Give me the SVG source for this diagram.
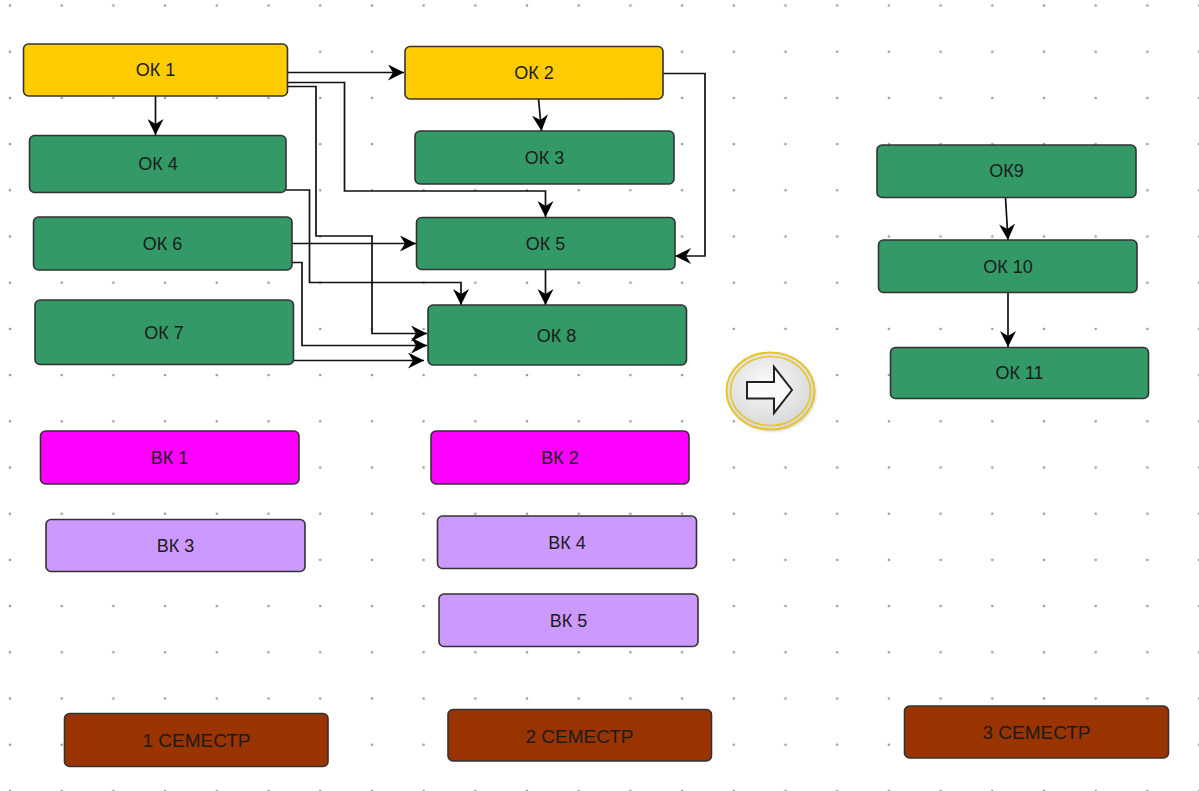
<svg xmlns="http://www.w3.org/2000/svg" width="1199" height="791" viewBox="0 0 1199 791">
<style>
.n{stroke:#333;stroke-width:1.6}
.ok{fill:#339966}
.y{fill:#FFCC00}
.m{fill:#FF00FF}
.p{fill:#CC99FF}
.s{fill:#993300}
.t{font-family:"Liberation Sans",Arial,sans-serif;font-size:18px;fill:#1c1c1c;text-anchor:middle;dominant-baseline:central}
.ts{font-size:19px}
.c{fill:none;stroke:#111;stroke-width:1.7}
</style>
<defs>
<pattern id="grid" x="10" y="5.5" width="51.7" height="46.2" patternUnits="userSpaceOnUse">
<circle cx="0" cy="0" r="1.3" fill="#999"/><circle cx="51.7" cy="0" r="1.3" fill="#999"/><circle cx="0" cy="46.2" r="1.3" fill="#999"/><circle cx="51.7" cy="46.2" r="1.3" fill="#999"/>
</pattern>
<marker id="ah" markerUnits="userSpaceOnUse" markerWidth="16" markerHeight="16" refX="16" refY="8" orient="auto" viewBox="0 0 16 16">
<path d="M0,0 L16,8 L0,16 L5,8 Z" fill="#000"/>
</marker>
<radialGradient id="btn" cx="45%" cy="40%" r="65%">
<stop offset="0" stop-color="#fafafa"/><stop offset="1" stop-color="#d4d4d4"/>
</radialGradient>
<filter id="sh" x="-20%" y="-20%" width="140%" height="140%"><feGaussianBlur stdDeviation="1.5"/></filter>
</defs>
<rect width="1199" height="791" fill="#fff"/>
<rect width="1199" height="791" fill="url(#grid)"/>

<g id="connectors">
<path class="c" d="M287,72.5 H404" marker-end="url(#ah)"/>
<path class="c" d="M287,82.5 H344.5 V191 H545.5 V217" marker-end="url(#ah)"/>
<path class="c" d="M287,86.5 H316 V236 H372 V333.5 H427" marker-end="url(#ah)"/>
<path class="c" d="M155.5,96 V135" marker-end="url(#ah)"/>
<path class="c" d="M286,190 H309.5 V282.5 H461 V305" marker-end="url(#ah)"/>
<path class="c" d="M292,243.5 H416" marker-end="url(#ah)"/>
<path class="c" d="M292,262.5 H302 V345.5 H427" marker-end="url(#ah)"/>
<path class="c" d="M293,360.5 H424" marker-end="url(#ah)"/>
<path class="c" d="M538.5,99 L541.5,131" marker-end="url(#ah)"/>
<path class="c" d="M663,73.5 H705 V256 H675" marker-end="url(#ah)"/>
<path class="c" d="M545.5,269 V305" marker-end="url(#ah)"/>
<path class="c" d="M1005.5,197.5 L1008,240" marker-end="url(#ah)"/>
<path class="c" d="M1008,292.5 V347" marker-end="url(#ah)"/>
</g>

<g id="ok1"><rect class="n y" x="23.5" y="44" width="264" height="52" rx="5"/><text class="t" x="155.5" y="70">ОК 1</text></g>
<g id="ok2"><rect class="n y" x="405" y="46.5" width="258" height="52.5" rx="5"/><text class="t" x="534" y="73">ОК 2</text></g>
<g id="ok4"><rect class="n ok" x="29.5" y="135.5" width="256.5" height="57" rx="5"/><text class="t" x="158" y="164">ОК 4</text></g>
<g id="ok3"><rect class="n ok" x="415" y="131" width="259" height="53" rx="5"/><text class="t" x="544.5" y="157.5">ОК 3</text></g>
<g id="ok6"><rect class="n ok" x="33.5" y="217" width="258.5" height="53" rx="5"/><text class="t" x="162.5" y="244">ОК 6</text></g>
<g id="ok5"><rect class="n ok" x="416.5" y="217.5" width="258.5" height="52" rx="5"/><text class="t" x="545.5" y="244">ОК 5</text></g>
<g id="ok7"><rect class="n ok" x="35" y="300" width="258.5" height="64.5" rx="5"/><text class="t" x="164" y="333">ОК 7</text></g>
<g id="ok8"><rect class="n ok" x="428" y="305" width="258.5" height="60" rx="5"/><text class="t" x="556.5" y="335.5">ОК 8</text></g>
<g id="ok9"><rect class="n ok" x="877" y="145" width="259" height="52.5" rx="5"/><text class="t" x="1006.5" y="171">ОК9</text></g>
<g id="ok10"><rect class="n ok" x="878.5" y="240" width="258.5" height="52.5" rx="5"/><text class="t" x="1008" y="267">ОК 10</text></g>
<g id="ok11"><rect class="n ok" x="890.5" y="347.5" width="258" height="51" rx="5"/><text class="t" x="1019.5" y="373">ОК 11</text></g>

<g id="vk1"><rect class="n m" x="40.5" y="431" width="258.5" height="53" rx="5"/><text class="t" x="169.5" y="458">ВК 1</text></g>
<g id="vk2"><rect class="n m" x="431" y="431" width="258" height="53" rx="5"/><text class="t" x="560" y="458">ВК 2</text></g>
<g id="vk3"><rect class="n p" x="46" y="519.5" width="259" height="52" rx="5"/><text class="t" x="175.5" y="546">ВК 3</text></g>
<g id="vk4"><rect class="n p" x="437.5" y="516" width="259" height="52.5" rx="5"/><text class="t" x="567" y="542.5">ВК 4</text></g>
<g id="vk5"><rect class="n p" x="439" y="594" width="259" height="52.5" rx="5"/><text class="t" x="568.5" y="621">ВК 5</text></g>

<g id="sem1"><rect class="n s" x="64.5" y="713.5" width="263.5" height="53" rx="5"/><text class="t ts" x="196.5" y="740">1 СЕМЕСТР</text></g>
<g id="sem2"><rect class="n s" x="448" y="709.5" width="263.5" height="51.5" rx="5"/><text class="t ts" x="579.5" y="736">2 СЕМЕСТР</text></g>
<g id="sem3"><rect class="n s" x="904.5" y="706" width="264" height="52" rx="5"/><text class="t ts" x="1036.5" y="732">3 СЕМЕСТР</text></g>

<g id="next-button">
<ellipse cx="772" cy="393" rx="44" ry="38.5" fill="#000" opacity="0.18" filter="url(#sh)"/>
<ellipse cx="770.5" cy="391" rx="44" ry="38.5" fill="url(#btn)" stroke="#E6C52A" stroke-width="2"/>
<ellipse cx="770.5" cy="391" rx="40" ry="34.5" fill="none" stroke="#E6C52A" stroke-width="1.5"/>
<path d="M747,382 H774 V367 L792,390 L774,413 V398.5 H747 Z" fill="#fafafa" stroke="#222" stroke-width="2" stroke-linejoin="miter"/>
</g>
</svg>
